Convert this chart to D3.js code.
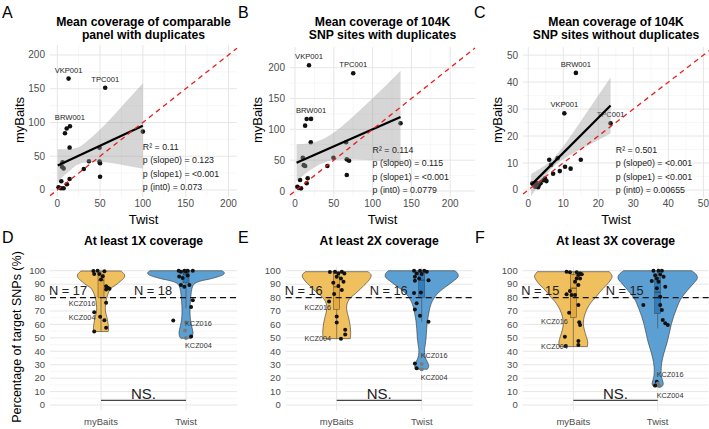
<!DOCTYPE html>
<html>
<head>
<meta charset="utf-8">
<script src="https://cdn.jsdelivr.net/npm/d3@7"></script>
<style>
  body { margin: 0; background: #fff; }
  svg { display: block; font-family: "Liberation Sans", Arial, Helvetica, sans-serif; }
</style>
</head>
<body>
<svg id="chart" width="709" height="429"></svg>
<script>
// ---------- scatter data: Twist (x) vs myBaits (y), first three are VKP001, TPC001, BRW001 ----------
const twistA = [13.2, 56, 14.8, 11, 9, 14.4, 100, 49.4, 37, 6.2, 5.5, 7.4, 49.4, 50, 31, 50, 14.4, 4.7, 11.3, 1.5, 4.3, 7.4];
const baitsA = [165, 151.5, 94.5, 91, 84, 62.7, 86.5, 62.5, 42.5, 41, 34.5, 32, 42, 39.5, 31, 19.7, 16.3, 13, 8.4, 4, 2.5, 2.5];
const twistB = [18, 75, 20.6, 15, 13, 20.3, 136, 65.8, 10, 11.2, 13, 49.5, 66.7, 69.7, 41.7, 66.7, 6.5, 16.3, 15, 3, 7.7, 5];
const baitsB = [204, 191, 117, 116.7, 106, 79, 110, 79, 54, 42, 40.5, 54, 51.4, 49, 40.5, 26, 17.8, 20.6, 12.5, 7, 4.3, 5];
const twistC = [10.3, 23.5, 13.6, 15, 10.5, 12.1, 9, 6, 8.4, 7.1, 6.5, 4.8, 4.3, 3.5, 5.2, 1.2, 2, 2.8, 1.7, 2.3, 3.0];
const baitsC = [28.4, 24.7, 43.4, 11.2, 8.6, 7.9, 7, 11.2, 11.8, 6, 9.3, 4.2, 3.6, 2.5, 3.3, 2.5, 1.2, 1, 2.1, 2.6, 1.8];
const sampleLabels = ['VKP001', 'TPC001', 'BRW001'];

// fitted line [x, y] and confidence band [x, low, high]
const fitA = [[0.5, 36.3], [100, 95]];
const bandA = [[0.5, 12.3, 60.3], [12.5, 26.4, 60.4], [25, 38.3, 63.3], [37.5, 41.1, 75.1], [50, 41.5, 89.5],
               [62.5, 39.9, 105.9], [75, 37.3, 123.3], [87.5, 34.6, 140.6], [100, 32, 158]];
const fitB = [[2, 46], [136, 120]];
const bandB = [[2, 16, 76], [17, 31.5, 77.1], [34, 44.1, 83.3], [51, 50.3, 95.9], [68, 51.5, 113.3],
               [85, 50.8, 132.8], [102, 49.6, 152.8], [119, 47.8, 173.4], [136, 45, 195]];
const fitC = [[0.8, 1.8], [23.5, 31.3]];
const bandC = [[0.8, -2.35, 5.95], [4, 3.5, 8.4], [7, 8.4, 11.4], [10, 11.4, 16.2], [13, 13.7, 21.7],
               [16, 15.8, 27.4], [19.5, 18.2, 34.1], [23.5, 20.9, 41.7]];

const statsA = ['R² = 0.11', 'p (slope0) = 0.123', 'p (slope1) = <0.001', 'p (int0) = 0.073'];
const statsB = ['R² = 0.114', 'p (slope0) = 0.115', 'p (slope1) = <0.001', 'p (int0) = 0.0779'];
const statsC = ['R² = 0.501', 'p (slope0) = <0.001', 'p (slope1) = <0.001', 'p (int0) = 0.00655'];

const ticks200 = [0, 50, 100, 150, 200];
const ticks50 = [0, 10, 20, 30, 40, 50];

// ---------- violin data ----------
const groups = ['myBaits', 'Twist'];
const pctTicks = [0, 10, 20, 30, 40, 50, 60, 70, 80, 90, 100];

// density profiles [value, relative density]
const dens1Baits = [[99.8, 0.50], [97, 0.59], [95, 0.58], [92, 0.48], [89, 0.35], [87, 0.25], [84, 0.19], [80, 0.145],
                    [75, 0.115], [70, 0.11], [65, 0.15], [60, 0.18], [56, 0.19], [54.7, 0.18]];
const dens1Twist = [[100, 0.90], [98.5, 0.96], [97, 0.93], [95.5, 0.80], [94, 0.62], [92, 0.33], [90, 0.2], [87, 0.15],
                    [82, 0.125], [77, 0.11], [70, 0.1], [64, 0.11], [59, 0.14], [54, 0.175], [51, 0.16], [49.7, 0.13]];
const dens2Baits = [[99.3, 0.78], [97, 0.86], [95, 0.85], [92, 0.78], [89, 0.68], [86, 0.58], [83, 0.47], [80, 0.35],
                    [77, 0.28], [74, 0.25], [70, 0.255], [66, 0.29], [62, 0.32], [58, 0.34], [54, 0.35], [49.4, 0.34]];
const dens2Twist = [[100, 0.83], [98, 0.9], [95.5, 0.91], [92, 0.78], [88, 0.6], [84, 0.43], [80.6, 0.33], [77, 0.26],
                    [73, 0.21], [68, 0.175], [63, 0.145], [57, 0.125], [50, 0.11], [45, 0.09], [41, 0.07], [37, 0.08],
                    [34, 0.11], [31, 0.16], [28.5, 0.175], [26.6, 0.14]];
const dens3Baits = [[99.3, 0.9], [96, 0.97], [93, 0.93], [90, 0.85], [87, 0.75], [84, 0.66], [80.6, 0.57], [77, 0.46],
                    [74, 0.39], [70.7, 0.33], [66, 0.275], [61, 0.25], [56, 0.275], [51, 0.325], [47, 0.36], [43.5, 0.35]];
const dens3Twist = [[100, 0.85], [97, 0.97], [94.3, 0.99], [90, 0.88], [85.6, 0.75], [82, 0.65], [78, 0.56], [72, 0.475],
                    [66, 0.4], [60, 0.34], [53.4, 0.29], [47, 0.24], [41, 0.18], [35, 0.125], [28.5, 0.09], [23.5, 0.088],
                    [20, 0.105], [16, 0.14], [14.5, 0.125], [13.6, 0.1]];

// samples [value, jitter (fraction of category step), highlighted]
const pts1Baits = [[99.8, -0.09], [99.9, -0.04], [99.7, 0.04], [97.5, -0.08], [97.5, -0.02], [95.8, 0.02], [93.4, 0],
                   [88.5, 0.06], [87.3, 0.08], [86, 0.06], [86.5, 0.1], [76.2, 0.06], [69, -0.08], [65.7, -0.01],
                   [63.2, 0.04], [57.5, 0.06], [54.7, -0.08]];
const pts1Twist = [[100, -0.086], [100, -0.02], [100, 0.02], [100, 0.08], [99.2, -0.06], [99.5, 0], [95.7, -0.08],
                   [94.5, -0.04], [96.4, 0.02], [89.4, -0.06], [88.1, -0.02], [89.4, 0.04], [78, 0.08], [73, 0.06],
                   [63, -0.15], [61.5, 0, 1], [55.5, -0.01, 1], [51, 0.06], [50, 0, 1]];
const pts2Baits = [[99, -0.08], [99.3, -0.02], [99.3, 0.06], [98, 0.02], [98, 0.09], [95.5, 0], [94.3, 0.05], [91.8, 0.08],
                   [91, -0.04], [88.6, 0.02], [85.6, 0.06], [82.6, -0.03], [77, -0.09], [66, 0], [61.5, 0], [56, 0.1],
                   [52.6, 0.1], [49.4, 0.05]];
const pts2Twist = [[100, -0.09], [100, -0.02], [100, 0.03], [99.3, 0.06], [98, -0.06], [97.5, 0], [95.5, -0.08],
                   [94.3, -0.03], [92.6, -0.08], [93, 0.08], [83.4, -0.09], [83.8, -0.01], [75.7, -0.06], [71.2, -0.08],
                   [66.5, -0.02], [62, 0.08], [31, -0.08], [30.5, 0, 1], [27.4, -0.06], [26.6, 0, 1]];
const pts3Baits = [[99.3, -0.08], [98.8, -0.04], [98.8, 0.04], [98, 0.08], [96.8, 0.06], [97.3, 0.1], [94.3, 0.04],
                   [94.3, 0.08], [91.8, 0.02], [89.4, 0.06], [84.9, -0.04], [82.5, -0.08], [82, -0.02], [82, 0.02],
                   [74.5, 0.06], [68.7, -0.05], [61.6, 0.07], [59.6, 0.08], [50.9, -0.1], [47.6, 0.06], [44.7, 0.06],
                   [43.9, -0.09]];
const pts3Twist = [[100, -0.05], [100, 0.01], [100, 0.05], [96.7, -0.03], [97.2, 0.03], [94.3, -0.01], [95.5, 0.07],
                   [92.3, -0.07], [91.8, 0.01], [88.1, 0.09], [86.9, -0.01], [80.6, 0.03], [74.5, -0.17], [74.5, 0.03],
                   [70.7, 0.05], [63.3, 0.06], [60.8, 0.09], [59.6, 0.12], [17.3, -0.01], [16, 0, 1], [14.5, -0.03],
                   [14.2, 0.02, 1]];

// boxplot stats [lower whisker, q1, median, q3, upper whisker]
const box1Baits = [54.7, 80, 93, 97.5, 99.9];
const box1Twist = [72, 91, 97.5, 99.7, 100];
const box2Baits = [49.4, 71, 88, 98, 99.3];
const box2Twist = [62, 80, 93, 98.5, 100];
const box3Baits = [43.5, 65, 87, 97, 99.3];
const box3Twist = [57, 68, 84, 95, 100];

// labelled samples [group, name, value]
const lab1 = [['myBaits', 'KCZ016', 75.7], ['myBaits', 'KCZ004', 65], ['Twist', 'KCZ016', 60.8], ['Twist', 'KCZ004', 44]];
const lab2 = [['myBaits', 'KCZ016', 72.5], ['myBaits', 'KCZ004', 49.7], ['Twist', 'KCZ016', 36.7], ['Twist', 'KCZ004', 20.6]];
const lab3 = [['myBaits', 'KCZ016', 62], ['myBaits', 'KCZ004', 43.4], ['Twist', 'KCZ016', 22.8], ['Twist', 'KCZ004', 7.4]];

const nLab1 = ['N = 17', 'N = 18'];
const nLab2 = ['N = 16', 'N = 16'];
const nLab3 = ['N = 15', 'N = 15'];

const fillCol = { myBaits: '#f0c05e', Twist: '#5c9fd3' };
const boxCol = { myBaits: '#e6a93e', Twist: '#2f7dbd' };

const svg = d3.select('#chart');
const gridMajor = '#e6e6e6';
const gridMinor = '#f1f1f1';
const tickCol = '#4d4d4d';

const midpoints = arr => arr.slice(1).map((v, i) => (v + arr[i]) / 2);

// ---------- scatter panels ----------
const scatterPanels = [
  { letter: 'A', lx: 2, title: ['Mean coverage of comparable', 'panel with duplicates'],
    left: 50, right: 237, top: 45, bottom: 197, xDom: [-8.5, 210], yDom: [-10.4, 214.8], ticks: ticks200,
    xs: twistA, ys: baitsA, fit: fitA, band: bandA, stats: statsA, statsX: 100, statsY: 150, yTitleX: 19 },
  { letter: 'B', lx: 238, title: ['Mean coverage of 104K', 'SNP sites with duplicates'],
    left: 290, right: 475, top: 47, bottom: 197, xDom: [-6.5, 232], yDom: [-9.7, 233.6], ticks: ticks200,
    xs: twistB, ys: baitsB, fit: fitB, band: bandB, stats: statsB, statsX: 100, statsY: 153, yTitleX: 257.5 },
  { letter: 'C', lx: 474, title: ['Mean coverage of 104K', 'SNP sites without duplicates'],
    left: 523, right: 709, top: 47, bottom: 197, xDom: [-1.5, 51.6], yDom: [-2.6, 53], ticks: ticks50,
    xs: twistC, ys: baitsC, fit: fitC, band: bandC, stats: statsC, statsX: 25, statsY: 153, yTitleX: 497.5 }
];

scatterPanels.forEach((p, pi) => {
  const g = svg.append('g');
  const x = d3.scaleLinear().domain(p.xDom).range([p.left, p.right]);
  const y = d3.scaleLinear().domain(p.yDom).range([p.bottom, p.top]);
  const minor = midpoints(p.ticks);

  const clipId = 'clip-s' + pi;
  svg.append('clipPath').attr('id', clipId)
    .append('rect').attr('x', p.left).attr('y', p.top)
    .attr('width', p.right - p.left).attr('height', p.bottom - p.top);

  // grid
  g.selectAll('line.vmin').data(minor).join('line')
    .attr('x1', d => x(d)).attr('x2', d => x(d)).attr('y1', p.top).attr('y2', p.bottom)
    .attr('stroke', gridMinor).attr('stroke-width', 0.6);
  g.selectAll('line.hmin').data(minor).join('line')
    .attr('y1', d => y(d)).attr('y2', d => y(d)).attr('x1', p.left).attr('x2', p.right)
    .attr('stroke', gridMinor).attr('stroke-width', 0.6);
  g.selectAll('line.vmaj').data(p.ticks).join('line')
    .attr('x1', d => x(d)).attr('x2', d => x(d)).attr('y1', p.top).attr('y2', p.bottom)
    .attr('stroke', gridMajor).attr('stroke-width', 1);
  g.selectAll('line.hmaj').data(p.ticks).join('line')
    .attr('y1', d => y(d)).attr('y2', d => y(d)).attr('x1', p.left).attr('x2', p.right)
    .attr('stroke', gridMajor).attr('stroke-width', 1);

  // tick labels
  g.selectAll('text.xt').data(p.ticks).join('text')
    .attr('x', d => x(d)).attr('y', p.bottom + 10).attr('text-anchor', 'middle')
    .attr('font-size', 10).attr('fill', tickCol).text(d => d);
  g.selectAll('text.yt').data(p.ticks).join('text')
    .attr('x', p.left - 5).attr('y', d => y(d)).attr('dy', '0.35em').attr('text-anchor', 'end')
    .attr('font-size', 10).attr('fill', tickCol).text(d => d);

  // axis titles
  g.append('text').attr('x', (p.left + p.right) / 2).attr('y', 224).attr('text-anchor', 'middle')
    .attr('font-size', 13).text('Twist');
  g.append('text').attr('transform', `translate(${p.yTitleX},120) rotate(-90)`)
    .attr('dy', '0.35em').attr('text-anchor', 'middle').attr('font-size', 13).text('myBaits');

  // title and letter
  g.selectAll('text.title').data(p.title).join('text')
    .attr('x', (p.left + p.right) / 2).attr('y', (d, i) => 26 + i * 12.5).attr('text-anchor', 'middle')
    .attr('font-size', 12.2).attr('font-weight', 'bold').text(d => d);
  g.append('text').attr('x', p.lx).attr('y', 18).attr('font-size', 16).text(p.letter);

  // points
  const pts = p.xs.map((v, i) => [v, p.ys[i]]);
  g.selectAll('circle.pt').data(pts).join('circle')
    .attr('cx', d => x(d[0])).attr('cy', d => y(d[1])).attr('r', 2.3).attr('fill', '#111');

  // sample labels
  g.selectAll('text.lab').data(sampleLabels).join('text')
    .attr('x', (d, i) => x(p.xs[i])).attr('y', (d, i) => y(p.ys[i]) - 6)
    .attr('text-anchor', 'middle').attr('font-size', 7.6).attr('fill', '#222').text(d => d);

  // confidence band and fitted line
  const area = d3.area().curve(d3.curveMonotoneX)
    .x(d => x(d[0])).y0(d => y(d[1])).y1(d => y(d[2]));
  g.append('path').datum(p.band).attr('d', area)
    .attr('fill', '#999999').attr('fill-opacity', 0.4).attr('clip-path', `url(#${clipId})`);
  g.append('path').datum(p.fit)
    .attr('d', d3.line().x(d => x(d[0])).y(d => y(d[1])))
    .attr('stroke', '#000').attr('stroke-width', 2.2).attr('fill', 'none');

  // identity line
  const lo = Math.max(p.xDom[0], p.yDom[0]);
  const hi = Math.min(p.xDom[1], p.yDom[1]);
  g.append('line').attr('x1', x(lo)).attr('y1', y(lo)).attr('x2', x(hi)).attr('y2', y(hi))
    .attr('stroke', '#e8201c').attr('stroke-width', 1.3).attr('stroke-dasharray', '5,4');

  // stats
  g.selectAll('text.stat').data(p.stats).join('text')
    .attr('x', x(p.statsX)).attr('y', (d, i) => p.statsY + i * 13.3)
    .attr('font-size', 8.8).attr('fill', '#222').text(d => d);
});

// ---------- violin panels ----------
const violinPanels = [
  { letter: 'D', lx: 2, title: 'At least 1X coverage', left: 50, right: 237,
    dens: [dens1Baits, dens1Twist], box: [box1Baits, box1Twist], pts: [pts1Baits, pts1Twist], labs: lab1, n: nLab1 },
  { letter: 'E', lx: 238, title: 'At least 2X coverage', left: 285.7, right: 472.7,
    dens: [dens2Baits, dens2Twist], box: [box2Baits, box2Twist], pts: [pts2Baits, pts2Twist], labs: lab2, n: nLab2 },
  { letter: 'F', lx: 475, title: 'At least 3X coverage', left: 522.7, right: 708.3,
    dens: [dens3Baits, dens3Twist], box: [box3Baits, box3Twist], pts: [pts3Baits, pts3Twist], labs: lab3, n: nLab3 }
];

const yV = d3.scaleLinear().domain([-4, 103]).range([410.4, 266.7]);
const wV = d3.scaleLinear().domain([0, 1]).range([0, 40]);
const pctMinor = midpoints(pctTicks);

violinPanels.forEach(p => {
  const g = svg.append('g');
  const x = d3.scalePoint().domain(groups).range([p.left, p.right]).padding(0.6);
  const step = x.step();
  const top = yV.range()[1], bottom = yV.range()[0];

  // grid
  g.selectAll('line.hmin').data(pctMinor).join('line')
    .attr('x1', p.left).attr('x2', p.right).attr('y1', d => yV(d)).attr('y2', d => yV(d))
    .attr('stroke', gridMinor).attr('stroke-width', 0.6);
  g.selectAll('line.hmaj').data(pctTicks).join('line')
    .attr('x1', p.left).attr('x2', p.right).attr('y1', d => yV(d)).attr('y2', d => yV(d))
    .attr('stroke', gridMajor).attr('stroke-width', 1);
  g.selectAll('line.vmaj').data(groups).join('line')
    .attr('x1', d => x(d)).attr('x2', d => x(d)).attr('y1', top).attr('y2', bottom)
    .attr('stroke', gridMajor).attr('stroke-width', 1);

  // ticks
  g.selectAll('text.yt').data(pctTicks).join('text')
    .attr('x', p.left - 5).attr('y', d => yV(d)).attr('dy', '0.35em').attr('text-anchor', 'end')
    .attr('font-size', 9.5).attr('fill', tickCol).text(d => d);
  g.selectAll('text.xt').data(groups).join('text')
    .attr('x', d => x(d)).attr('y', 425).attr('text-anchor', 'middle')
    .attr('font-size', 9.5).attr('fill', tickCol).text(d => d);

  // title and letter
  g.append('text').attr('x', (p.left + p.right) / 2).attr('y', 245).attr('text-anchor', 'middle')
    .attr('font-size', 12.2).attr('font-weight', 'bold').text(p.title);
  g.append('text').attr('x', p.lx).attr('y', 243).attr('font-size', 16).text(p.letter);

  groups.forEach((grp, gi) => {
    const cx = x(grp);
    const prof = p.dens[gi].slice().sort((a, b) => a[0] - b[0]);
    const area = d3.area().curve(d3.curveCatmullRom.alpha(0.5))
      .y(d => yV(d[0])).x0(d => cx - wV(d[1])).x1(d => cx + wV(d[1]));
    g.append('path').datum(prof).attr('d', area)
      .attr('fill', fillCol[grp]).attr('stroke', '#333').attr('stroke-width', 0.6);
  });

  // N labels (drawn over the violins)
  g.selectAll('text.n').data(groups).join('text')
    .attr('x', d => x(d) - 33).attr('y', yV(85.5)).attr('dy', '0.35em').attr('text-anchor', 'middle')
    .attr('font-size', 12.8).attr('fill', '#222').text((d, i) => p.n[i]);

  groups.forEach((grp, gi) => {
    const cx = x(grp);
    const b = p.box[gi];
    g.append('line').attr('x1', cx).attr('x2', cx).attr('y1', yV(b[0])).attr('y2', yV(b[4]))
      .attr('stroke', '#444').attr('stroke-width', 0.6);
    g.append('rect').attr('x', cx - 3).attr('width', 6).attr('y', yV(b[3])).attr('height', yV(b[1]) - yV(b[3]))
      .attr('fill', boxCol[grp]).attr('stroke', '#444').attr('stroke-width', 0.5);
    g.append('line').attr('x1', cx - 3).attr('x2', cx + 3).attr('y1', yV(b[2])).attr('y2', yV(b[2]))
      .attr('stroke', '#333').attr('stroke-width', 0.8);

    g.selectAll(null).data(p.pts[gi]).join('circle')
      .attr('cx', d => cx + d[1] * step).attr('cy', d => yV(d[0])).attr('r', 2)
      .attr('fill', d => d[2] ? '#7a7a7a' : '#111');
  });

  // 80% threshold
  g.append('line').attr('x1', p.left).attr('x2', p.right + 1).attr('y1', yV(80)).attr('y2', yV(80))
    .attr('stroke', '#111').attr('stroke-width', 1.2).attr('stroke-dasharray', '6,4');

  // sample labels
  g.selectAll('text.lab').data(p.labs).join('text')
    .attr('x', d => d[0] === 'myBaits' ? x(d[0]) - 5.5 : x(d[0]) - 1)
    .attr('y', d => yV(d[2])).attr('dy', '0.35em')
    .attr('text-anchor', d => d[0] === 'myBaits' ? 'end' : 'start')
    .attr('font-size', 7.3).attr('fill', '#333').text(d => d[1]);

  // significance bar
  g.append('line').attr('x1', x(groups[0])).attr('x2', x(groups[1]))
    .attr('y1', yV(3.5)).attr('y2', yV(3.5)).attr('stroke', '#444').attr('stroke-width', 1.3);
  g.append('text').attr('x', (x(groups[0]) + x(groups[1])) / 2).attr('y', yV(3.5) - 1.5)
    .attr('text-anchor', 'middle').attr('font-size', 15).attr('fill', '#222').text('NS.');
});

// shared y title for the violins
svg.append('text').attr('transform', 'translate(17,337) rotate(-90)')
  .attr('dy', '0.35em').attr('text-anchor', 'middle').attr('font-size', 12.5)
  .text('Percentage of target SNPs (%)');
</script>
</body>
</html>
